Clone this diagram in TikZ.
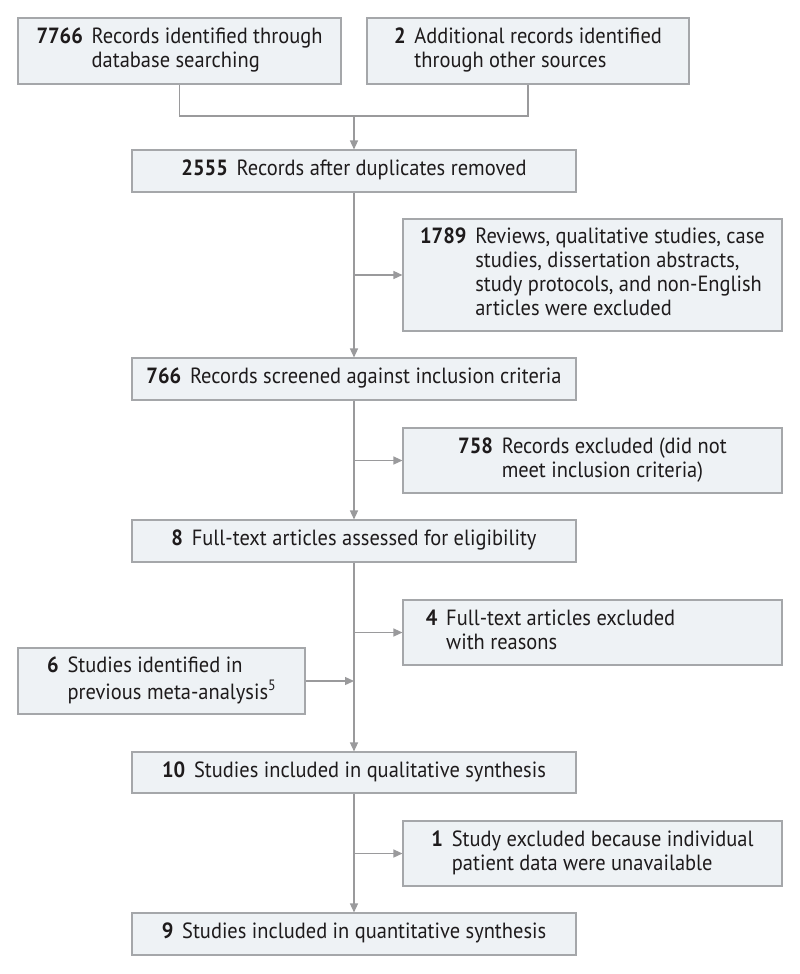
\documentclass[tikz,border=0pt]{standalone}
\usepackage{fontspec}
\setmainfont{PT Sans}[FakeStretch=0.93]
\usetikzlibrary{arrows.meta}
\definecolor{boxfill}{HTML}{EEF2F5}
\definecolor{boxline}{HTML}{A5A7AA}
\definecolor{connc}{HTML}{9A9A9C}
\definecolor{txt}{HTML}{1E1B1C}
\newcommand\flowentry[2]{\textbf{#1}\hspace{0.4em}\begin{tabular}[t]{@{}l@{}}#2\end{tabular}}
\tikzset{
  box/.style={draw=boxline, line width=1.1bp, fill=boxfill, rectangle, inner sep=0pt,
    text=txt, font=\fontsize{22bp}{24bp}\selectfont, anchor=center},
  wbox/.style={box, minimum width=444bp},
  sbox/.style={box, minimum width=379bp},
  conn/.style={draw=connc, line width=1.3bp},
  arr/.style={conn, -{Triangle[length=9bp,width=8bp]}}
}
\begin{document}
\begin{tikzpicture}[x=1bp,y=-1bp]
\useasboundingbox (0,0) rectangle (800,974);
\node[box, minimum width=323bp, minimum height=66bp] (A) at (179.5,51)
  {\flowentry{7766}{Records identified through\\database searching}};
\node[box, minimum width=322bp, minimum height=66bp] (B) at (528,51)
  {\flowentry{2}{Additional records identified\\through other sources}};
\node[wbox, minimum height=42bp] (C) at (354,171)
  {\flowentry{2555}{Records after duplicates removed}};
\node[sbox, minimum height=112bp] (D) at (592.5,275)
  {\flowentry{1789}{Reviews, qualitative studies, case\\studies, dissertation abstracts,\\study protocols, and non-English\\articles were excluded}};
\node[wbox, minimum height=42bp] (E) at (354,379)
  {\flowentry{766}{Records screened against inclusion criteria}};
\node[sbox, minimum height=65bp] (F) at (592.5,460.5)
  {\flowentry{758}{Records excluded (did not\\meet inclusion criteria)}};
\node[wbox, minimum height=42bp] (G) at (354,541)
  {\flowentry{8}{Full-text articles assessed for eligibility}};
\node[sbox, minimum height=65bp] (H) at (592.5,632.5)
  {\flowentry{4}{Full-text articles excluded\\with reasons}\hspace*{84bp}};
\node[box, minimum width=287bp, minimum height=66bp] (I) at (161.5,681)
  {\flowentry{6}{Studies identified in\\previous meta-analysis\raisebox{0.42em}{\fontsize{15bp}{15bp}\selectfont 5}}};
\node[wbox, minimum height=41bp] (J) at (354,772.5)
  {\flowentry{10}{Studies included in qualitative synthesis}};
\node[sbox, minimum height=65bp] (K) at (592.5,853.5)
  {\flowentry{1}{Study excluded because individual\\patient data were unavailable}};
\node[wbox, minimum height=42bp] (L) at (354,934)
  {\flowentry{9}{Studies included in quantitative synthesis}};

\coordinate (j1) at (354,116);
\draw[conn] (A.south) |- (j1) -| (B.south);
\draw[arr] (j1) -- (C.north);
\draw[arr] (C.south) -- (E.north);
\draw[arr] (C.south |- D.west) -- (D.west);
\draw[arr] (E.south) -- (G.north);
\draw[arr] (E.south |- F.west) -- (F.west);
\draw[arr] (G.south) -- (J.north);
\draw[arr] (G.south |- H.west) -- (H.west);
\draw[arr] (I.east) -- (I.east -| G.south);
\draw[arr] (J.south) -- (L.north);
\draw[arr] (J.south |- K.west) -- (K.west);
\end{tikzpicture}
\end{document}
